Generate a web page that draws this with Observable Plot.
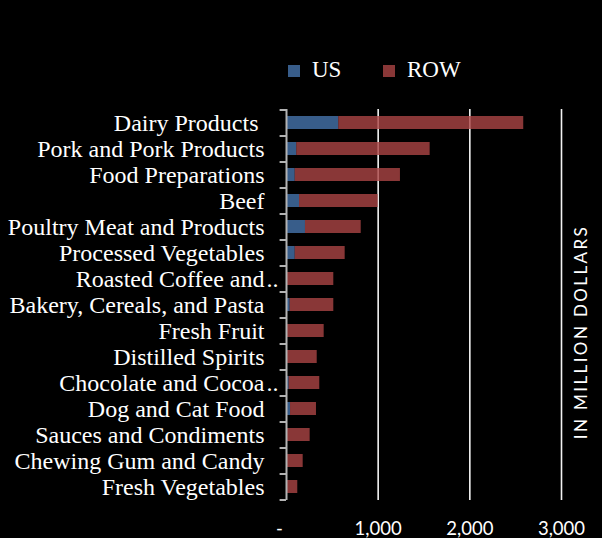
<!DOCTYPE html>
<html>
<head>
<meta charset="utf-8">
<script src="https://cdn.jsdelivr.net/npm/d3@7"></script>
<script src="https://cdn.jsdelivr.net/npm/@observablehq/plot@0.6"></script>
<style>
  html, body { margin: 0; padding: 0; background: #000; }
  #chart { position: relative; width: 602px; height: 538px; background: #000; overflow: hidden; }
  #chart svg { position: absolute; left: 0; top: 0; }
  .topline { position: absolute; left: 0; top: 12px; width: 602px; height: 2px; background: #e8e8e8; }
  .legend { position: absolute; top: 55px; left: 288px; font-family: "Liberation Serif", serif; font-size: 23px; color: #fff; }
  .legend .item { position: absolute; top: 0; white-space: nowrap; line-height: 30px; }
  .legend .sw { display: inline-block; width: 12px; height: 12px; margin-right: 12px; vertical-align: 0px; }
</style>
</head>
<body>
<div id="chart">
  <div class="topline"></div>
</div>
<script>
// Export categories (top to bottom) and export values, in million dollars
const categories = [
  "Dairy Products\u00a0",
  "Pork and Pork Products",
  "Food Preparations",
  "Beef",
  "Poultry Meat and Products",
  "Processed Vegetables",
  "Roasted Coffee and…",
  "Bakery, Cereals, and Pasta",
  "Fresh Fruit",
  "Distilled Spirits",
  "Chocolate and Cocoa…",
  "Dog and Cat Food",
  "Sauces and Condiments",
  "Chewing Gum and Candy",
  "Fresh Vegetables"
];
const usValues  = [570, 112, 95, 142, 207, 95, 0, 40, 0, 0, 29, 44, 8, 0, 0];
const rowValues = [2018, 1455, 1148, 858, 608, 545, 516, 476, 411, 335, 334, 283, 250, 182, 123];

const seriesNames = ["US", "ROW"];
const seriesColors = ["#4674ac", "#ab4545"];
const xTicks = [0, 1000, 2000, 3000];
const axisTitle = "IN MILLION DOLLARS";

const rows = categories.flatMap((c, i) => [
  {category: c, series: "US", value: usValues[i]},
  {category: c, series: "ROW", value: rowValues[i]}
]);

const last = categories[categories.length - 1];
// long labels are cut, and their dots run past the label column
const truncated = categories.filter(c => c.endsWith("…"));

const plot = Plot.plot({
  width: 602,
  height: 538,
  marginTop: 109,
  marginBottom: 38,
  marginLeft: 286,
  marginRight: 41,
  style: {background: "#000", color: "#fff", fontFamily: "Liberation Serif, serif", overflow: "visible"},
  x: {domain: [0, 3000]},
  y: {domain: categories, paddingInner: 0.5, paddingOuter: 0.25},
  color: {domain: seriesNames, range: seriesColors},
  marks: [
    // vertical gridlines
    Plot.ruleX(xTicks.slice(1), {stroke: "#f2f2f2", strokeWidth: 1.6}),
    // stacked bars
    Plot.barX(rows, Plot.stackX({
      x: "value", y: "category", fill: "series",
      fillOpacity: 0.8
    })),
    // category axis line and boundary ticks
    Plot.ruleX([0], {stroke: "#b3b3b3", strokeWidth: 2}),
    Plot.ruleY(categories, {y: d => d, x1: -70, x2: 0, dy: -13, stroke: "#b3b3b3", strokeWidth: 2}),
    Plot.ruleY([last], {y: d => d, x1: -70, x2: 0, dy: 13, stroke: "#b3b3b3", strokeWidth: 2}),
    // category labels
    Plot.axisY({
      tickSize: 0, tickPadding: 22, fontSize: 24,
      fontFamily: "Liberation Serif, serif", label: null,
      tickFormat: d => d.replace("…", "")
    }),
    Plot.text(truncated, {
      y: d => d, frameAnchor: "left", text: () => "..",
      textAnchor: "start", dx: -20, fontSize: 24, fill: "#fff",
      fontFamily: "Liberation Serif, serif"
    }),
    // value labels
    Plot.axisX({
      ticks: xTicks, tickSize: 0, tickPadding: 21, fontSize: 18.5,
      fontFamily: "Lato, sans-serif", label: null,
      tickFormat: d => d === 0 ? "-\u00a0\u00a0\u00a0" : d3.format(",")(d)
    }),
    // unit title on the right
    Plot.text([axisTitle], {
      text: d => d, frameAnchor: "right", rotate: -90, textAnchor: "middle",
      dx: 20, dy: 27, fontSize: 17, fontFamily: "Lato, sans-serif", fill: "#fff",
      className: "unit-title"
    })
  ]
});

d3.select(plot).selectAll(".unit-title text").style("letter-spacing", "2.4px");

const chart = document.getElementById("chart");
chart.appendChild(plot);

// legend
const legend = document.createElement("div");
legend.className = "legend";
const offsets = [0, 95];
seriesNames.forEach((name, i) => {
  const item = document.createElement("div");
  item.className = "item";
  item.style.left = offsets[i] + "px";
  const sw = document.createElement("span");
  sw.className = "sw";
  sw.style.background = seriesColors[i];
  sw.style.opacity = 0.8;
  item.appendChild(sw);
  item.appendChild(document.createTextNode(name));
  legend.appendChild(item);
});
chart.appendChild(legend);
</script>
</body>
</html>
